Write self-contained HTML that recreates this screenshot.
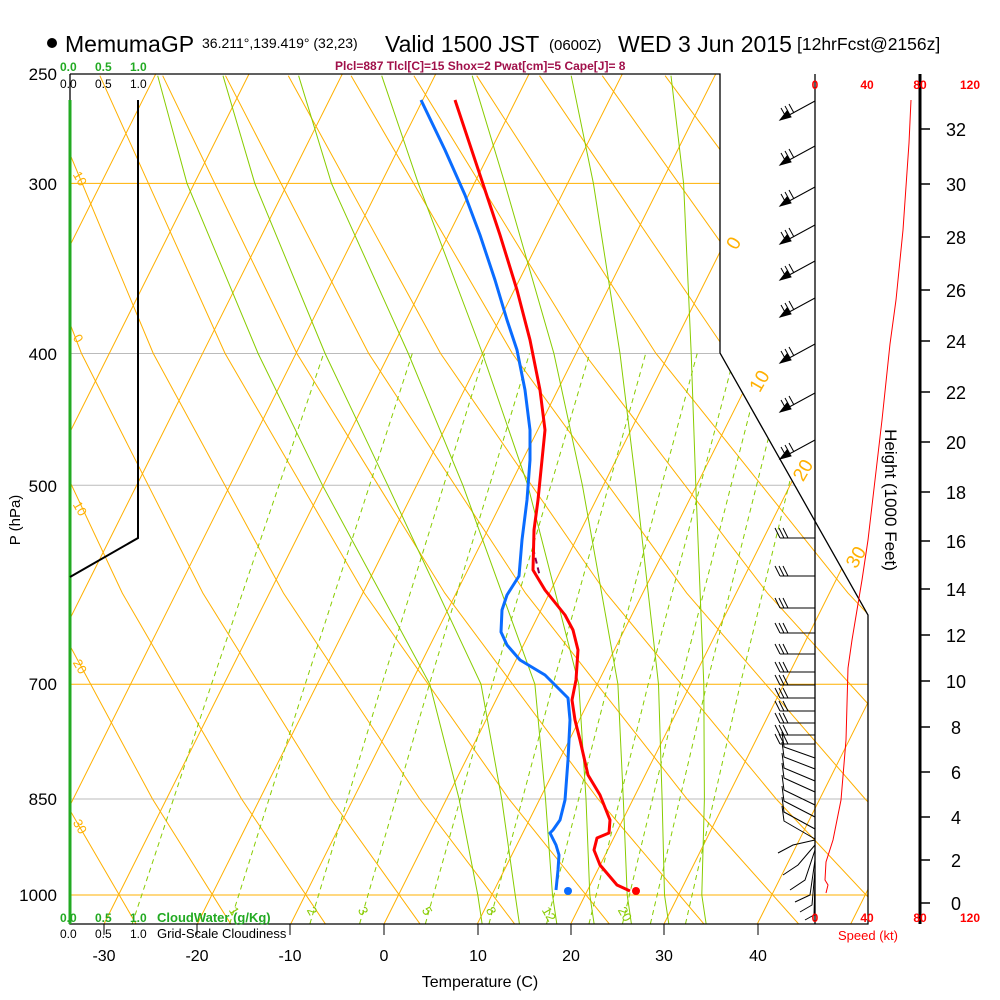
<!DOCTYPE html>
<html><head><meta charset="utf-8"><style>
body{margin:0;background:#fff;}
svg{display:block;font-family:"Liberation Sans",sans-serif;}
</style></head><body>
<svg width="1000" height="1000" viewBox="0 0 1000 1000" xmlns="http://www.w3.org/2000/svg">
<defs><clipPath id="c"><polygon points="70,74 720,74 720,353 868,615 868,924 70,924"/></clipPath></defs>
<rect width="1000" height="1000" fill="#fff"/>
<g clip-path="url(#c)" fill="none">
<g stroke-width="1">
<line x1="70" x2="868" y1="183.4" y2="183.4" stroke="#ffb000"/>
<line x1="70" x2="868" y1="684.2" y2="684.2" stroke="#ffb000"/>
<line x1="70" x2="868" y1="895" y2="895" stroke="#ffb000"/>
<line x1="70" x2="868" y1="353.5" y2="353.5" stroke="#bbb"/>
<line x1="70" x2="868" y1="485.3" y2="485.3" stroke="#bbb"/>
<line x1="70" x2="868" y1="799" y2="799" stroke="#bbb"/>
</g>
<g stroke="#ffb000" stroke-width="1">
<line x1="-362.6" y1="924" x2="62.4" y2="74"/>
<line x1="-269.3" y1="924" x2="155.7" y2="74"/>
<line x1="-176" y1="924" x2="249" y2="74"/>
<line x1="-82.7" y1="924" x2="342.3" y2="74"/>
<line x1="10.7" y1="924" x2="435.7" y2="74"/>
<line x1="104" y1="924" x2="529" y2="74"/>
<line x1="197.3" y1="924" x2="622.3" y2="74"/>
<line x1="290.7" y1="924" x2="715.7" y2="74"/>
<line x1="384" y1="924" x2="809" y2="74"/>
<line x1="477.3" y1="924" x2="902.3" y2="74"/>
<line x1="570.7" y1="924" x2="995.7" y2="74"/>
<line x1="664" y1="924" x2="1089" y2="74"/>
<line x1="757.3" y1="924" x2="1182" y2="74"/>
<line x1="850.7" y1="924" x2="1275.7" y2="74"/>
</g>
<g stroke="#ffb000" stroke-width="1">
<polyline points="136,923.8 63.4,799 -39,593.1 -133.9,353.5 -214.1,75.7"/>
<polyline points="230.6,923.8 152.5,799 41.6,593.1 -62.1,353.5 -151.3,75.7"/>
<polyline points="325.3,923.8 241.6,799 122.3,593.1 9.7,353.5 -88.5,75.7"/>
<polyline points="419.9,923.8 330.7,799 202.9,593.1 81.5,353.5 -25.7,75.7"/>
<polyline points="514.5,923.8 419.8,799 283.5,593.1 153.3,353.5 37.1,75.7"/>
<polyline points="609.2,923.8 508.9,799 364.2,593.1 225.1,353.5 99.9,75.7"/>
<polyline points="703.8,923.8 598,799 444.8,593.1 296.9,353.5 162.7,75.7"/>
<polyline points="798.5,923.8 687.1,799 525.5,593.1 368.7,353.5 225.5,75.7"/>
<polyline points="893.1,923.8 776.2,799 606.1,593.1 440.6,353.5 288.3,75.7"/>
<polyline points="987.7,923.8 865.2,799 686.7,593.1 512.4,353.5 351.1,75.7"/>
<polyline points="1082.4,923.8 954.3,799 767.4,593.1 584.2,353.5 413.9,75.7"/>
<polyline points="1177,923.8 1043.4,799 848,593.1 656,353.5 476.7,75.7"/>
<polyline points="1271.7,923.8 1132.5,799 928.7,593.1 727.8,353.5 539.5,75.7"/>
<polyline points="1366.3,923.8 1221.6,799 1009.3,593.1 799.6,353.5 602.3,75.7"/>
<polyline points="1460.9,923.8 1310.7,799 1089.9,593.1 871.4,353.5 665.1,75.7"/>
<polyline points="1555.6,923.8 1399.8,799 1170.6,593.1 943.2,353.5 727.9,75.7"/>
<polyline points="1650.2,923.8 1488.9,799 1251.2,593.1 1015,353.5 790.7,75.7"/>
<polyline points="1744.9,923.8 1578,799 1331.9,593.1 1086.8,353.5 853.5,75.7"/>
</g>
<g stroke="#88cc00" stroke-width="1">
<polyline points="482.1,923.8 477.8,895 459.1,799 429.8,684.2 322.5,485.3 258.1,353.5 187,183.4 157.7,75.7"/>
<polyline points="519.4,923.8 515.2,895 501.7,799 481,684.2 387.8,485.3 325.1,353.5 254.8,183.4 223,75.7"/>
<polyline points="556.8,923.8 552.5,895 545.5,799 534.9,684.2 462.9,485.3 408.3,353.5 331.5,183.4 298.6,75.7"/>
<polyline points="594.1,923.8 589.8,895 586,799 578.8,684.2 527.8,485.3 482.5,353.5 418.3,183.4 381.7,75.7"/>
<polyline points="631.4,923.8 627.2,895 623.3,799 617.9,684.2 582.4,485.3 553.9,353.5 504.8,183.4 472.2,75.7"/>
<polyline points="668.8,923.8 664.5,895 662.1,799 658.5,684.2 636.1,485.3 620,353.5 593.4,183.4 571.2,75.7"/>
<polyline points="706.1,923.8 701.8,895 704.4,799 703.8,684.2 695.8,485.3 691.2,353.5 683.6,183.4 671,75.7"/>
</g>
<g stroke="#88cc00" stroke-width="1" stroke-dasharray="5,4">
<polyline points="132.2,923.8 211.5,684.2 323.7,353.5"/>
<polyline points="229.7,923.8 305.2,684.2 412.3,353.5"/>
<polyline points="309.9,923.8 381.9,684.2 484.7,353.5"/>
<polyline points="359.6,923.8 429.4,684.2 529.5,353.5"/>
<polyline points="425.4,923.8 492.3,684.2 589.7,353.5"/>
<polyline points="489,923.8 553.1,684.2 645.7,353.5"/>
<polyline points="546.6,923.8 608.1,684.2 697.2,353.5"/>
<polyline points="589,923.8 648.2,684.2 735,353.5"/>
<polyline points="622.5,923.8 680.2,684.2 764.8,353.5"/>
<polyline points="650.4,923.8 706.8,684.2 789.6,353.5"/>
<polyline points="685.5,923.8 740.3,684.2 821,353.5"/>
</g>
</g>
<g font-size="13" fill="#88cc00">
<text x="232" y="912" transform="rotate(60 232 908)">1</text>
<text x="310" y="912" transform="rotate(60 310 908)">2</text>
<text x="361" y="912" transform="rotate(60 361 908)">3</text>
<text x="425" y="912" transform="rotate(60 425 908)">5</text>
<text x="489" y="912" transform="rotate(60 489 908)">8</text>
<text x="545" y="912" transform="rotate(60 545 908)">12</text>
<text x="621" y="912" transform="rotate(60 621 908)">20</text>
</g>
<g fill="#ffb000">
<text x="74" y="180" font-size="13" transform="rotate(60 78 176)">10</text>
<text x="74" y="343" font-size="13" transform="rotate(60 78 339)">0</text>
<text x="74" y="510" font-size="13" transform="rotate(60 78 506)">10</text>
<text x="74" y="668" font-size="13" transform="rotate(60 78 664)">20</text>
<text x="74" y="828" font-size="13" transform="rotate(60 78 824)">30</text>
<text x="728" y="250" font-size="19" transform="rotate(-60 733 243)">0</text>
<text x="745" y="388" font-size="19" transform="rotate(-60 757 378)">10</text>
<text x="789" y="478" font-size="19" transform="rotate(-60 800 468)">20</text>
<text x="842" y="565" font-size="19" transform="rotate(-60 853 555)">30</text>
</g>
<polyline points="70,74 720,74 720,353 868,615 868,924 70,924 70,74" fill="none" stroke="#000" stroke-width="1.3"/>
<line x1="815" y1="74" x2="815" y2="924" stroke="#000" stroke-width="1.3"/>
<line x1="920" y1="74" x2="920" y2="924" stroke="#000" stroke-width="3"/>
<line x1="70" y1="100" x2="70" y2="924" stroke="#22aa22" stroke-width="3"/>
<polyline points="138,100 138,538 70,577" fill="none" stroke="#000" stroke-width="2"/>
<g stroke="#000"><line x1="104" y1="924" x2="104" y2="935"/><line x1="197" y1="924" x2="197" y2="935"/><line x1="290" y1="924" x2="290" y2="935"/><line x1="384" y1="924" x2="384" y2="935"/><line x1="478" y1="924" x2="478" y2="935"/><line x1="571" y1="924" x2="571" y2="935"/><line x1="664" y1="924" x2="664" y2="935"/><line x1="758" y1="924" x2="758" y2="935"/></g>
<g stroke="#000" stroke-width="1.5">
<line x1="920" x2="930" y1="903" y2="903"/><line x1="920" x2="930" y1="860" y2="860"/><line x1="920" x2="930" y1="817" y2="817"/><line x1="920" x2="930" y1="772" y2="772"/><line x1="920" x2="930" y1="727" y2="727"/><line x1="920" x2="930" y1="681" y2="681"/><line x1="920" x2="930" y1="635" y2="635"/><line x1="920" x2="930" y1="589" y2="589"/><line x1="920" x2="930" y1="541" y2="541"/><line x1="920" x2="930" y1="492" y2="492"/><line x1="920" x2="930" y1="442" y2="442"/><line x1="920" x2="930" y1="392" y2="392"/><line x1="920" x2="930" y1="341" y2="341"/><line x1="920" x2="930" y1="290" y2="290"/><line x1="920" x2="930" y1="237" y2="237"/><line x1="920" x2="930" y1="184" y2="184"/><line x1="920" x2="930" y1="129" y2="129"/>
</g>
<g font-size="18" text-anchor="middle">
<text x="956" y="910">0</text><text x="956" y="867">2</text><text x="956" y="824">4</text><text x="956" y="779">6</text><text x="956" y="734">8</text><text x="956" y="688">10</text><text x="956" y="642">12</text><text x="956" y="596">14</text><text x="956" y="548">16</text><text x="956" y="499">18</text><text x="956" y="449">20</text><text x="956" y="399">22</text><text x="956" y="348">24</text><text x="956" y="297">26</text><text x="956" y="244">28</text><text x="956" y="191">30</text><text x="956" y="136">32</text>
</g>
<polyline fill="none" stroke="#f00" stroke-width="1" points="911,100 909,143 903,230 896,300 890,344 882,420 875,480 868,540 862,580 852,640 848,668 846,740 841,800 833,840 826,862 825,880 828,885 826,893"/>
<g stroke="#000" stroke-width="1" fill="#000">
<g id="b1"><line x1="815" y1="101" x2="780" y2="120"/><polygon points="780,120 787,111 791,117"/><line x1="786" y1="117" x2="781" y2="108"/><line x1="790" y1="115" x2="785" y2="106"/><line x1="794" y1="113" x2="789" y2="104"/></g>
<use href="#b1" y="45"/><use href="#b1" y="86"/><use href="#b1" y="124"/><use href="#b1" y="160"/><use href="#b1" y="197"/><use href="#b1" y="243"/><use href="#b1" y="292"/><use href="#b1" y="339"/>
<g id="b2"><line x1="815" y1="608" x2="780" y2="608"/><line x1="780" y1="608" x2="775" y2="598"/><line x1="784" y1="608" x2="779" y2="598"/><line x1="788" y1="608" x2="783" y2="598"/></g>
<use href="#b2" y="-70"/><use href="#b2" y="-32"/><use href="#b2" y="25"/><use href="#b2" y="46"/><use href="#b2" y="64"/><use href="#b2" y="77"/><use href="#b2" y="90"/><use href="#b2" y="103"/><use href="#b2" y="115"/><use href="#b2" y="127"/><use href="#b2" y="136"/>
<polyline fill="none" points="815,758 784,747 782,732"/><polyline fill="none" points="815,769 784,757 782,742"/><polyline fill="none" points="815,781 784,768 782,753"/><polyline fill="none" points="815,792 784,778 782,763"/><polyline fill="none" points="815,805 784,790 782,775"/><polyline fill="none" points="815,817 784,801 782,786"/><polyline fill="none" points="815,829 784,812 782,797"/><polyline fill="none" points="815,839 784,821 782,806"/>
<polyline fill="none" points="815,840 793,845 778,853"/><polyline fill="none" points="815,845 798,865 783,875"/><polyline fill="none" points="815,850 805,880 790,890"/><polyline fill="none" points="815,860 810,895 795,902"/><polyline fill="none" points="815,870 812,905 800,912"/><polyline fill="none" points="815,880 814,915 805,920"/>
</g>
<polyline fill="none" stroke="#8a0050" stroke-width="2" stroke-dasharray="6,4" points="533,548 540,577"/>
<polyline fill="none" stroke="#f00" stroke-width="3" stroke-linejoin="round" points="455,100 480,175 500,235 517,290 530,340 540,390 545,430 542,460 538,500 534,530 533,570 545,590 565,615 573,630 578,650 576,680 572,700 575,720 580,740 588,775 600,795 610,820 609,833 597,838 594,850 600,865 617,885 630,891"/>
<polyline fill="none" stroke="#0a6cff" stroke-width="3" stroke-linejoin="round" points="421,100 445,150 465,195 480,235 495,280 507,320 517,350 525,390 530,430 530,460 527,500 522,540 519,576 507,595 502,610 501,632 507,645 520,660 545,675 560,690 568,698 570,720 568,760 565,800 560,820 553,830 550,833 556,845 559,855 558,870 556,890"/>
<circle cx="636" cy="891" r="4" fill="#f00"/><circle cx="568" cy="891" r="4" fill="#0a6cff"/>
<circle cx="52" cy="43" r="5" fill="#000"/>
<text x="65" y="52" font-size="23">MemumaGP</text>
<text x="202" y="48" font-size="14">36.211°,139.419° (32,23)</text>
<text x="385" y="52" font-size="23">Valid 1500 JST</text>
<text x="549" y="50" font-size="15">(0600Z)</text>
<text x="618" y="52" font-size="23">WED 3 Jun 2015</text>
<text x="797" y="50" font-size="17.5">[12hrFcst@2156z]</text>
<text x="335" y="70" font-size="12" font-weight="bold" fill="#a0104a">Plcl=887 Tlcl[C]=15 Shox=2 Pwat[cm]=5 Cape[J]= 8</text>
<g font-size="12" font-weight="bold" fill="#22aa22"><text x="60" y="71">0.0</text><text x="95" y="71">0.5</text><text x="130" y="71">1.0</text>
<text x="60" y="922">0.0</text><text x="95" y="922">0.5</text><text x="130" y="922">1.0</text><text x="157" y="922" font-size="13">CloudWater (g/Kg)</text></g>
<g font-size="12" fill="#000"><text x="60" y="88">0.0</text><text x="95" y="88">0.5</text><text x="130" y="88">1.0</text>
<text x="60" y="938">0.0</text><text x="95" y="938">0.5</text><text x="130" y="938">1.0</text><text x="157" y="938" font-size="13">Grid-Scale Cloudiness</text></g>
<g font-size="17" text-anchor="end"><text x="57" y="80">250</text><text x="57" y="190">300</text><text x="57" y="360">400</text><text x="57" y="492">500</text><text x="57" y="690">700</text><text x="57" y="805">850</text><text x="57" y="901">1000</text></g>
<text transform="translate(20,520) rotate(-90)" font-size="15" text-anchor="middle">P (hPa)</text>
<g font-size="16" text-anchor="middle"><text x="104" y="961">-30</text><text x="197" y="961">-20</text><text x="290" y="961">-10</text><text x="384" y="961">0</text><text x="478" y="961">10</text><text x="571" y="961">20</text><text x="664" y="961">30</text><text x="758" y="961">40</text></g>
<text x="480" y="987" font-size="16" text-anchor="middle">Temperature (C)</text>
<text transform="translate(885,500) rotate(90)" font-size="17" text-anchor="middle">Height (1000 Feet)</text>
<g font-size="12" font-weight="bold" fill="#f00" text-anchor="middle"><text x="815" y="89">0</text><text x="867" y="89">40</text><text x="920" y="89">80</text><text x="970" y="89">120</text>
<text x="815" y="922">0</text><text x="867" y="922">40</text><text x="920" y="922">80</text><text x="970" y="922">120</text></g>
<text x="838" y="940" font-size="13" fill="#f00">Speed (kt)</text>
</svg>
</body></html>
